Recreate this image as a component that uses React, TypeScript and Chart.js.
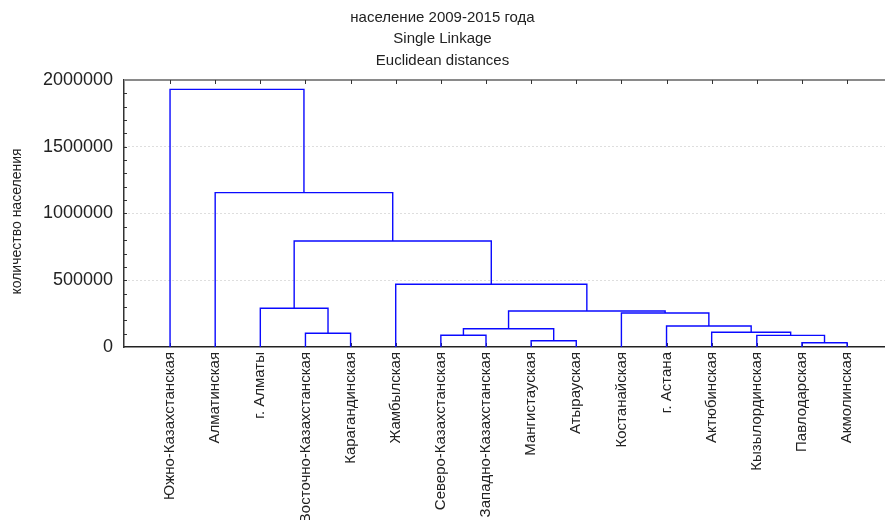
import React, { useEffect, useRef } from 'react';
import { Chart, registerables } from 'chart.js';

Chart.register(...registerables);

const titleLines = ['население 2009-2015 года', 'Single Linkage', 'Euclidean distances'];
const yAxisTitle = 'количество населения';

const leafLabels = [
  'Южно-Казахстанская',
  'Алматинская',
  'г. Алматы',
  'Восточно-Казахстанская',
  'Карагандинская',
  'Жамбылская',
  'Северо-Казахстанская',
  'Западно-Казахстанская',
  'Мангистауская',
  'Атырауская',
  'Костанайская',
  'г. Астана',
  'Актюбинская',
  'Кызылординская',
  'Павлодарская',
  'Акмолинская',
];

// Linkage: node ids 0..15 are leaves, 16+ are clusters in merge order
const mergeLeft = [14, 8, 6, 13, 3, 12, 18, 11, 10, 22, 2, 5, 26, 1, 0];
const mergeRight = [15, 9, 7, 16, 4, 19, 17, 21, 23, 24, 20, 25, 27, 28, 29];
const mergeHeight = [32000, 47000, 88000, 87000, 103000, 110000, 137000, 157000, 255000, 270000, 290000, 470000, 794000, 1156000, 1930000];

const yTicks = [0, 500000, 1000000, 1500000, 2000000];
const yMinorStep = 100000;
const yMax = 2000000;

const FONT = '"Liberation Sans", Arial, sans-serif';

function buildLinks() {
  const nodeX: number[] = leafLabels.map((_, i) => i + 1);
  const nodeH: number[] = leafLabels.map(() => 0);
  return mergeLeft.map((l, k) => {
    const r = mergeRight[k];
    const h = mergeHeight[k];
    const pts = [
      { x: nodeX[l], y: nodeH[l] },
      { x: nodeX[l], y: h },
      { x: nodeX[r], y: h },
      { x: nodeX[r], y: nodeH[r] },
    ];
    nodeX.push((nodeX[l] + nodeX[r]) / 2);
    nodeH.push(h);
    return pts;
  });
}

const decorPlugin = {
  id: 'decor',
  beforeDatasetsDraw(chart: any) {
    const { ctx, chartArea, scales } = chart;
    const { left, right, top, bottom } = chartArea;
    const x = scales.x;
    const y = scales.y;
    ctx.save();
    // top frame line
    ctx.strokeStyle = '#8a8a8a';
    ctx.lineWidth = 2;
    ctx.beginPath();
    ctx.moveTo(left, top);
    ctx.lineTo(right, top);
    ctx.stroke();
    // minor ticks on left axis (inside)
    ctx.strokeStyle = '#333';
    ctx.lineWidth = 1;
    ctx.beginPath();
    for (let v = yMinorStep; v < yMax; v += yMinorStep) {
      const py = Math.round(y.getPixelForValue(v)) + 0.5;
      ctx.moveTo(left, py);
      ctx.lineTo(left + 3, py);
    }
    // leaf ticks top and bottom (inside)
    leafLabels.forEach((_, i) => {
      const px = Math.round(x.getPixelForValue(i + 1)) + 0.5;
      ctx.moveTo(px, top);
      ctx.lineTo(px, top + 4);
      ctx.moveTo(px, bottom);
      ctx.lineTo(px, bottom - 4);
    });
    ctx.stroke();
    // y axis title
    ctx.fillStyle = '#222';
    ctx.font = '14px ' + FONT;
    ctx.textAlign = 'center';
    ctx.textBaseline = 'middle';
    ctx.translate(17, (top + bottom) / 2 + 8);
    ctx.rotate(-Math.PI / 2);
    ctx.fillText(yAxisTitle, 0, 0);
    ctx.restore();
  },
};

export default function App() {
  const ref = useRef<HTMLCanvasElement | null>(null);
  useEffect(() => {
    document.body.style.margin = '0';
    const links = buildLinks();
    const chart = new Chart(ref.current as HTMLCanvasElement, {
      type: 'line',
      data: {
        datasets: links.map((pts) => ({
          data: pts,
          borderColor: '#0a0aff',
          borderWidth: 1.4,
          pointRadius: 0,
          fill: false,
          tension: 0,
        })),
      },
      options: {
        responsive: false,
        animation: false,
        parsing: false as any,
        layout: { padding: { left: 0, right: 0, top: 0, bottom: 0 } },
        plugins: {
          legend: { display: false },
          tooltip: { enabled: false },
          title: {
            display: true,
            text: titleLines,
            color: '#222',
            font: { family: FONT, size: 15, weight: 'normal', lineHeight: 1.433 },
            padding: { top: 7, bottom: 8.5 },
          },
        },
        scales: {
          x: {
            type: 'linear',
            min: -0.02,
            max: 16.84,
            afterBuildTicks: (s: any) => {
              s.ticks = leafLabels.map((_, i) => ({ value: i + 1 }));
            },
            afterFit: (s: any) => {
              s.height = 173;
            },
            ticks: {
              autoSkip: false,
              minRotation: 90,
              maxRotation: 90,
              padding: 5,
              color: '#222',
              font: { family: FONT, size: 15 },
              callback: (v: any) => leafLabels[Math.round(Number(v)) - 1] ?? '',
            },
            grid: { display: true, drawOnChartArea: false, drawTicks: false },
            border: { display: true, color: '#222', width: 1.5 },
          },
          y: {
            type: 'linear',
            min: 0,
            max: yMax,
            afterBuildTicks: (s: any) => {
              s.ticks = yTicks.map((v) => ({ value: v }));
            },
            afterFit: (s: any) => {
              s.width = 124;
            },
            ticks: {
              padding: 11,
              color: '#222',
              font: { family: FONT, size: 18 },
              callback: (v: any) => String(v),
            },
            grid: {
              drawTicks: false,
              lineWidth: 1,
              color: (ctx: any) => {
                const v = ctx.tick ? ctx.tick.value : 0;
                return v > 0 && v < yMax ? '#bdbdbd' : 'rgba(0,0,0,0)';
              },
            },
            border: { display: true, color: '#333', width: 1.5, dash: [1, 3] },
            title: { display: false },
          },
        },
      },
      plugins: [decorPlugin],
    });
    return () => chart.destroy();
  }, []);
  return (
    <div style={{ position: 'absolute', left: 0, top: 0, width: 885, height: 520 }}>
      <canvas ref={ref} width={885} height={520} />
    </div>
  );
}
